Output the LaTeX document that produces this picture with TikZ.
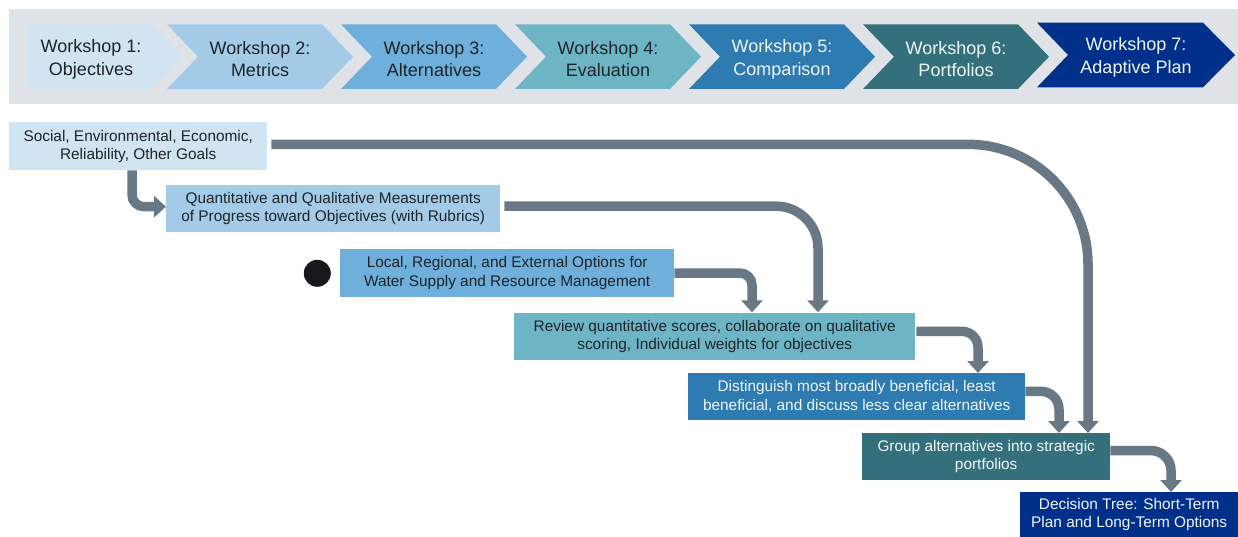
\documentclass[tikz,border=0pt]{standalone}
\usepackage{fontspec}
\setmainfont{Liberation Sans}
\usetikzlibrary{arrows.meta,calc}
\definecolor{bg}{HTML}{DFE3E7}
\definecolor{c1}{HTML}{D0E4F2}
\definecolor{c2}{HTML}{A3CBE7}
\definecolor{c3}{HTML}{6EAFDB}
\definecolor{c4}{HTML}{6DB5C5}
\definecolor{c5}{HTML}{2D7BB1}
\definecolor{c6}{HTML}{34707C}
\definecolor{c7}{HTML}{00308A}
\definecolor{ar}{HTML}{687985}
\definecolor{txt}{HTML}{1F2428}
\definecolor{wtxt}{HTML}{F2F5F8}
\definecolor{dotc}{HTML}{15191C}
\begin{document}
\begin{tikzpicture}[x=1pt,y=-1pt,
  wlabel/.style={align=center, font=\fontsize{18}{22.7}\selectfont, inner sep=0, text=txt},
  box/.style={anchor=north west, inner sep=0, align=center, font=\fontsize{15.4}{18.3}\selectfont, text=txt},
  flow/.style={draw=ar, line width=9.5pt, -{Triangle[width=21pt,length=12pt]}},
]
\useasboundingbox (0,0) rectangle (1238,537);
\fill[bg] (9,9) rectangle (1238,104);
% chevrons
\fill[c1] (28,24.3) -- (152,24.3) -- (183,56.7) -- (152,89) -- (28,89) -- cycle;
\fill[c2] (167,24.3) -- (322,24.3) -- (353,56.7) -- (322,89) -- (167,89) -- (198,56.7) -- cycle;
\fill[c3] (341,24.3) -- (496,24.3) -- (527,56.7) -- (496,89) -- (341,89) -- (372,56.7) -- cycle;
\fill[c4] (515,24.3) -- (670,24.3) -- (701,56.7) -- (670,89) -- (515,89) -- (546,56.7) -- cycle;
\fill[c5] (689,24.3) -- (844,24.3) -- (875,56.7) -- (844,89) -- (689,89) -- (720,56.7) -- cycle;
\fill[c6] (863,24.3) -- (1018,24.3) -- (1049,56.7) -- (1018,89) -- (863,89) -- (894,56.7) -- cycle;
\fill[c7] (1037,22.7) -- (1203,22.7) -- (1235,55) -- (1203,87.3) -- (1037,87.3) -- (1068,55) -- cycle;
\node[wlabel] (w1) at (91,59) {Workshop 1:\\Objectives};
\node[wlabel] (w2) at (260,59) {Workshop 2:\\Metrics};
\node[wlabel] (w3) at (434,59) {Workshop 3:\\Alternatives};
\node[wlabel] (w4) at (608,59) {Workshop 4:\\Evaluation};
\node[wlabel, text=wtxt] (w5) at (782,59) {Workshop 5:\\Comparison};
\node[wlabel, text=wtxt] (w6) at (956,59) {Workshop 6:\\Portfolios};
\node[wlabel, text=wtxt] (w7) at (1136,57.3) {Workshop 7:\\Adaptive Plan};
% boxes
\node[box, fill=c1, minimum width=258, minimum height=47.7] (A) at (9,122.3) {Social, Environmental, Economic,\\Reliability, Other Goals};
\node[box, fill=c2, minimum width=334, minimum height=46.4] (B) at (166,185.3) {Quantitative and Qualitative Measurements\\of Progress toward Objectives (with Rubrics)};
\node[box, fill=c3, minimum width=334, minimum height=47.7] (C) at (340,249) {Local, Regional, and External Options for\\Water Supply and Resource Management};
\node[box, fill=c4, minimum width=401, minimum height=47.7] (D) at (514,312.3) {Review quantitative scores, collaborate on qualitative\\scoring, Individual weights for objectives};
\node[box, fill=c5, text=wtxt, minimum width=337, minimum height=46.3] (E) at (688,373) {Distinguish most broadly beneficial, least\\beneficial, and discuss less clear alternatives};
\node[box, fill=c6, text=wtxt, minimum width=248, minimum height=46.7] (F) at (862,433) {Group alternatives into strategic\\portfolios};
\node[box, fill=c7, text=wtxt, minimum width=218, minimum height=45] (G) at (1020,492) {Decision Tree: Short-Term\\Plan and Long-Term Options};
\node[circle, fill=dotc, minimum size=27, inner sep=0] (dot) at (317.3,273.3) {};
% connectors
\draw[flow, rounded corners=120] ([xshift=4,yshift=2]A.east) -| ([xshift=226]F.north west);
\draw[flow, rounded corners=12] ([xshift=123]A.south west) |- ([yshift=2]B.west);
\draw[flow, rounded corners=42] ([xshift=4,yshift=2.5]B.east) -| ([xshift=304]D.north west);
\draw[flow, rounded corners=12] (C.east) -| ([xshift=238]D.north west);
\draw[flow, rounded corners=16] ([xshift=1,yshift=5]D.east) -| ([xshift=290]E.north west);
\draw[flow, rounded corners=18] ([yshift=5]E.east) -| ([xshift=197]F.north west);
\draw[flow, rounded corners=20] ([yshift=6]F.east) -| ([xshift=151]G.north west);
\end{tikzpicture}
\end{document}
